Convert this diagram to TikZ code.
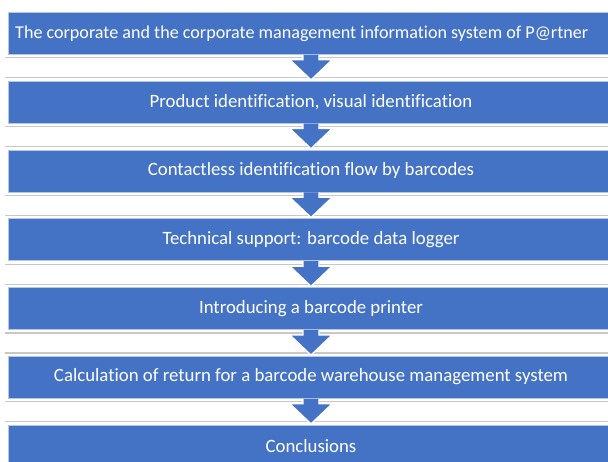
\documentclass[tikz,border=0pt]{standalone}
\usepackage{fontspec}
\setmainfont{Carlito}[Ligatures=NoCommon]
\definecolor{boxblue}{HTML}{4472C4}
\definecolor{rimblue}{HTML}{B4C7E7}
\definecolor{rulegray}{HTML}{C8C8C8}
\tikzset{
  stepbox/.style={rectangle, fill=boxblue, draw=rimblue, line width=0.8pt,
    minimum width=612pt, minimum height=42pt, anchor=north west, inner sep=0pt},
  steptext/.style={text=white, font=\fontsize{18.8}{22}\selectfont, inner sep=0pt},
  rule/.style={draw=rulegray, line width=1.1pt},
  flowarrow/.style={fill=boxblue, draw=white, line width=1.2pt, line join=miter}
}
\begin{document}
\begin{tikzpicture}[x=1pt,y=-1pt]
\useasboundingbox (0,0) rectangle (608,462);
\clip (0,0) rectangle (608,462);
% seven stacked steps
\foreach \i/\name in {0/s1,1/s2,2/s3,3/s4,4/s5,5/s6,6/s7}{
  \node[stepbox] (\name) at (8,12+68.8*\i) {};
  \coordinate (\name-c) at (311,33+68.8*\i);
}
% step labels
\node[steptext, anchor=west, font=\fontsize{18.1}{22}\selectfont] (t1) at (s1.west -| 15,0) {The corporate and the corporate management information system of P@rtner};
\node[steptext] (t2) at (s2-c) {Product identification, visual identification};
\node[steptext] (t3) at (s3-c) {Contactless identification flow by barcodes};
\node[steptext] (t4) at (s4-c) {Technical support: barcode data logger};
\node[steptext] (t5) at (s5-c) {Introducing a barcode printer};
\node[steptext] (t6) at (s6-c) {Calculation of return for a barcode warehouse management system};
\node[steptext] (t7) at (s7-c) {Conclusions};
% separator rules in each gap and the arrows between steps
\foreach \a/\b in {s1/s2,s2/s3,s3/s4,s4/s5,s5/s6,s6/s7}{
  \draw[rule] ([yshift=-3pt]\a.south west -| 5,0) -- ([yshift=-3pt]\a.south east);
  \draw[rule] ([yshift=3pt]\b.north west -| 5,0) -- ([yshift=3pt]\b.north east);
  \draw[flowarrow]
    ([xshift=-8pt]\a-c |- \a.south) -- ([xshift=-8pt,yshift=-5pt]\a-c |- \a.south)
    -- ([xshift=-21pt,yshift=-5pt]\a-c |- \a.south) -- ([yshift=1pt]\b-c |- \b.north)
    -- ([xshift=21pt,yshift=-5pt]\a-c |- \a.south) -- ([xshift=8pt,yshift=-5pt]\a-c |- \a.south)
    -- ([xshift=8pt]\a-c |- \a.south);
}
\end{tikzpicture}
\end{document}
